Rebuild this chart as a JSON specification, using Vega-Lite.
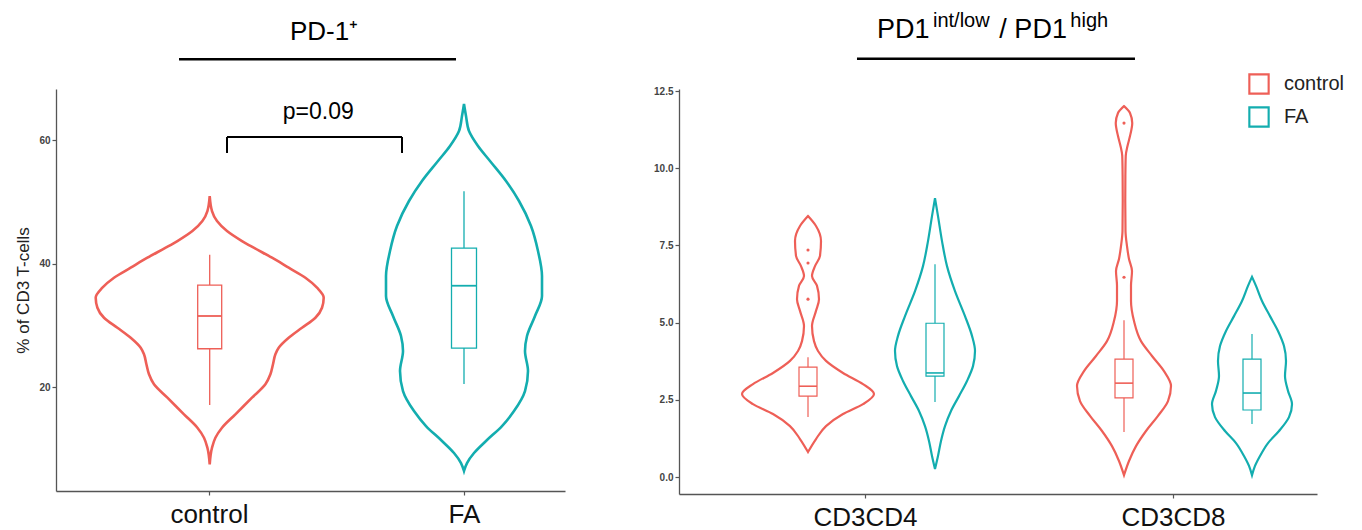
{
  "$schema": "https://vega.github.io/schema/vega-lite/v6.json",
  "padding": {"left": 14, "top": 10, "right": 0, "bottom": 0},
  "bounds": "flush",
  "spacing": 114,
  "config": {
    "view": {"stroke": null},
    "font": "Liberation Sans",
    "axis": {"grid": false, "domainColor": "#555555", "domainWidth": 1.3, "tickColor": "#555555", "tickWidth": 1.2, "tickSize": 4, "labelColor": "#444444", "labelFont": "Liberation Sans"}
  },
  "resolve": {"scale": {"x": "independent", "y": "independent", "stroke": "independent", "fill": "independent"}},
  "datasets": {
    "titles": [
      {"panel": "L", "part": "main", "text": "PD-1⁺"},
      {"panel": "R", "part": "a", "text": "PD1"},
      {"panel": "R", "part": "b", "text": "int/low"},
      {"panel": "R", "part": "c", "text": "/ PD1"},
      {"panel": "R", "part": "d", "text": "high"}
    ],
    "pvalue": [{"group1": "control", "group2": "FA", "label": "p=0.09"}],
    "violins": [
      {"panel": "L", "grp": "control", "cond": "control", "y": 7.48, "dens": 0},
      {"panel": "L", "grp": "control", "cond": "control", "y": 10.17, "dens": 0.00092},
      {"panel": "L", "grp": "control", "cond": "control", "y": 11.79, "dens": 0.00228},
      {"panel": "L", "grp": "control", "cond": "control", "y": 13.41, "dens": 0.00492},
      {"panel": "L", "grp": "control", "cond": "control", "y": 15.58, "dens": 0.01028},
      {"panel": "L", "grp": "control", "cond": "control", "y": 18.27, "dens": 0.01692},
      {"panel": "L", "grp": "control", "cond": "control", "y": 20.44, "dens": 0.02228},
      {"panel": "L", "grp": "control", "cond": "control", "y": 22.06, "dens": 0.02428},
      {"panel": "L", "grp": "control", "cond": "control", "y": 23.68, "dens": 0.02532},
      {"panel": "L", "grp": "control", "cond": "control", "y": 25.3, "dens": 0.02628},
      {"panel": "L", "grp": "control", "cond": "control", "y": 26.36, "dens": 0.0276},
      {"panel": "L", "grp": "control", "cond": "control", "y": 27.98, "dens": 0.0316},
      {"panel": "L", "grp": "control", "cond": "control", "y": 29.6, "dens": 0.03692},
      {"panel": "L", "grp": "control", "cond": "control", "y": 31.22, "dens": 0.04228},
      {"panel": "L", "grp": "control", "cond": "control", "y": 32.84, "dens": 0.04492},
      {"panel": "L", "grp": "control", "cond": "control", "y": 34.46, "dens": 0.0456},
      {"panel": "L", "grp": "control", "cond": "control", "y": 36.08, "dens": 0.04292},
      {"panel": "L", "grp": "control", "cond": "control", "y": 37.7, "dens": 0.03828},
      {"panel": "L", "grp": "control", "cond": "control", "y": 39.32, "dens": 0.0316},
      {"panel": "L", "grp": "control", "cond": "control", "y": 40.94, "dens": 0.02492},
      {"panel": "L", "grp": "control", "cond": "control", "y": 42.56, "dens": 0.0176},
      {"panel": "L", "grp": "control", "cond": "control", "y": 43.64, "dens": 0.01292},
      {"panel": "L", "grp": "control", "cond": "control", "y": 45.26, "dens": 0.00692},
      {"panel": "L", "grp": "control", "cond": "control", "y": 46.88, "dens": 0.00292},
      {"panel": "L", "grp": "control", "cond": "control", "y": 48.5, "dens": 0.00092},
      {"panel": "L", "grp": "control", "cond": "control", "y": 50.93, "dens": 0},
      {"panel": "L", "grp": "FA", "cond": "FA", "y": 6.4, "dens": 0},
      {"panel": "L", "grp": "FA", "cond": "FA", "y": 7.69, "dens": 0.0012},
      {"panel": "L", "grp": "FA", "cond": "FA", "y": 9.31, "dens": 0.004},
      {"panel": "L", "grp": "FA", "cond": "FA", "y": 11.26, "dens": 0.0088},
      {"panel": "L", "grp": "FA", "cond": "FA", "y": 13.68, "dens": 0.0152},
      {"panel": "L", "grp": "FA", "cond": "FA", "y": 16.11, "dens": 0.02},
      {"panel": "L", "grp": "FA", "cond": "FA", "y": 19.35, "dens": 0.0244},
      {"panel": "L", "grp": "FA", "cond": "FA", "y": 22.59, "dens": 0.0256},
      {"panel": "L", "grp": "FA", "cond": "FA", "y": 25.83, "dens": 0.0244},
      {"panel": "L", "grp": "FA", "cond": "FA", "y": 28.26, "dens": 0.0252},
      {"panel": "L", "grp": "FA", "cond": "FA", "y": 31.5, "dens": 0.0284},
      {"panel": "L", "grp": "FA", "cond": "FA", "y": 34.74, "dens": 0.0312},
      {"panel": "L", "grp": "FA", "cond": "FA", "y": 37.98, "dens": 0.0312},
      {"panel": "L", "grp": "FA", "cond": "FA", "y": 42.02, "dens": 0.0296},
      {"panel": "L", "grp": "FA", "cond": "FA", "y": 46.07, "dens": 0.0268},
      {"panel": "L", "grp": "FA", "cond": "FA", "y": 50.12, "dens": 0.022},
      {"panel": "L", "grp": "FA", "cond": "FA", "y": 53.36, "dens": 0.0168},
      {"panel": "L", "grp": "FA", "cond": "FA", "y": 56.6, "dens": 0.0104},
      {"panel": "L", "grp": "FA", "cond": "FA", "y": 59.03, "dens": 0.0056},
      {"panel": "L", "grp": "FA", "cond": "FA", "y": 61.46, "dens": 0.002},
      {"panel": "L", "grp": "FA", "cond": "FA", "y": 63.89, "dens": 0.0008},
      {"panel": "L", "grp": "FA", "cond": "FA", "y": 65.83, "dens": 0},
      {"panel": "R", "grp": "CD3CD4", "cond": "control", "y": 0.81, "dens": 0},
      {"panel": "R", "grp": "CD3CD4", "cond": "control", "y": 1.23, "dens": 0.064},
      {"panel": "R", "grp": "CD3CD4", "cond": "control", "y": 1.65, "dens": 0.144},
      {"panel": "R", "grp": "CD3CD4", "cond": "control", "y": 2.04, "dens": 0.28},
      {"panel": "R", "grp": "CD3CD4", "cond": "control", "y": 2.36, "dens": 0.44},
      {"panel": "R", "grp": "CD3CD4", "cond": "control", "y": 2.69, "dens": 0.528},
      {"panel": "R", "grp": "CD3CD4", "cond": "control", "y": 3.01, "dens": 0.44},
      {"panel": "R", "grp": "CD3CD4", "cond": "control", "y": 3.37, "dens": 0.28},
      {"panel": "R", "grp": "CD3CD4", "cond": "control", "y": 3.76, "dens": 0.144},
      {"panel": "R", "grp": "CD3CD4", "cond": "control", "y": 4.08, "dens": 0.08},
      {"panel": "R", "grp": "CD3CD4", "cond": "control", "y": 4.4, "dens": 0.048},
      {"panel": "R", "grp": "CD3CD4", "cond": "control", "y": 4.89, "dens": 0.032},
      {"panel": "R", "grp": "CD3CD4", "cond": "control", "y": 5.38, "dens": 0.064},
      {"panel": "R", "grp": "CD3CD4", "cond": "control", "y": 5.76, "dens": 0.088},
      {"panel": "R", "grp": "CD3CD4", "cond": "control", "y": 6.19, "dens": 0.072},
      {"panel": "R", "grp": "CD3CD4", "cond": "control", "y": 6.51, "dens": 0.032},
      {"panel": "R", "grp": "CD3CD4", "cond": "control", "y": 6.83, "dens": 0.056},
      {"panel": "R", "grp": "CD3CD4", "cond": "control", "y": 7.16, "dens": 0.096},
      {"panel": "R", "grp": "CD3CD4", "cond": "control", "y": 7.64, "dens": 0.104},
      {"panel": "R", "grp": "CD3CD4", "cond": "control", "y": 8.13, "dens": 0.064},
      {"panel": "R", "grp": "CD3CD4", "cond": "control", "y": 8.45, "dens": 0},
      {"panel": "R", "grp": "CD3CD4", "cond": "FA", "y": 0.26, "dens": 0},
      {"panel": "R", "grp": "CD3CD4", "cond": "FA", "y": 0.68, "dens": 0.024},
      {"panel": "R", "grp": "CD3CD4", "cond": "FA", "y": 1.17, "dens": 0.048},
      {"panel": "R", "grp": "CD3CD4", "cond": "FA", "y": 1.65, "dens": 0.08},
      {"panel": "R", "grp": "CD3CD4", "cond": "FA", "y": 2.14, "dens": 0.128},
      {"panel": "R", "grp": "CD3CD4", "cond": "FA", "y": 2.62, "dens": 0.192},
      {"panel": "R", "grp": "CD3CD4", "cond": "FA", "y": 3.11, "dens": 0.256},
      {"panel": "R", "grp": "CD3CD4", "cond": "FA", "y": 3.59, "dens": 0.304},
      {"panel": "R", "grp": "CD3CD4", "cond": "FA", "y": 4.08, "dens": 0.32},
      {"panel": "R", "grp": "CD3CD4", "cond": "FA", "y": 4.57, "dens": 0.296},
      {"panel": "R", "grp": "CD3CD4", "cond": "FA", "y": 5.21, "dens": 0.24},
      {"panel": "R", "grp": "CD3CD4", "cond": "FA", "y": 6.02, "dens": 0.16},
      {"panel": "R", "grp": "CD3CD4", "cond": "FA", "y": 6.83, "dens": 0.096},
      {"panel": "R", "grp": "CD3CD4", "cond": "FA", "y": 7.64, "dens": 0.056},
      {"panel": "R", "grp": "CD3CD4", "cond": "FA", "y": 8.45, "dens": 0.024},
      {"panel": "R", "grp": "CD3CD4", "cond": "FA", "y": 9.03, "dens": 0},
      {"panel": "R", "grp": "CD3CD8", "cond": "control", "y": 0.06, "dens": 0},
      {"panel": "R", "grp": "CD3CD8", "cond": "control", "y": 0.52, "dens": 0.04},
      {"panel": "R", "grp": "CD3CD8", "cond": "control", "y": 1.0, "dens": 0.096},
      {"panel": "R", "grp": "CD3CD8", "cond": "control", "y": 1.49, "dens": 0.176},
      {"panel": "R", "grp": "CD3CD8", "cond": "control", "y": 1.98, "dens": 0.272},
      {"panel": "R", "grp": "CD3CD8", "cond": "control", "y": 2.46, "dens": 0.352},
      {"panel": "R", "grp": "CD3CD8", "cond": "control", "y": 2.95, "dens": 0.376},
      {"panel": "R", "grp": "CD3CD8", "cond": "control", "y": 3.43, "dens": 0.32},
      {"panel": "R", "grp": "CD3CD8", "cond": "control", "y": 3.92, "dens": 0.224},
      {"panel": "R", "grp": "CD3CD8", "cond": "control", "y": 4.4, "dens": 0.136},
      {"panel": "R", "grp": "CD3CD8", "cond": "control", "y": 5.05, "dens": 0.08},
      {"panel": "R", "grp": "CD3CD8", "cond": "control", "y": 5.7, "dens": 0.056},
      {"panel": "R", "grp": "CD3CD8", "cond": "control", "y": 6.19, "dens": 0.056},
      {"panel": "R", "grp": "CD3CD8", "cond": "control", "y": 6.67, "dens": 0.064},
      {"panel": "R", "grp": "CD3CD8", "cond": "control", "y": 7.06, "dens": 0.04},
      {"panel": "R", "grp": "CD3CD8", "cond": "control", "y": 7.48, "dens": 0.024},
      {"panel": "R", "grp": "CD3CD8", "cond": "control", "y": 7.97, "dens": 0.012},
      {"panel": "R", "grp": "CD3CD8", "cond": "control", "y": 8.94, "dens": 0.01},
      {"panel": "R", "grp": "CD3CD8", "cond": "control", "y": 9.75, "dens": 0.011},
      {"panel": "R", "grp": "CD3CD8", "cond": "control", "y": 10.4, "dens": 0.014},
      {"panel": "R", "grp": "CD3CD8", "cond": "control", "y": 10.72, "dens": 0.028},
      {"panel": "R", "grp": "CD3CD8", "cond": "control", "y": 11.04, "dens": 0.048},
      {"panel": "R", "grp": "CD3CD8", "cond": "control", "y": 11.46, "dens": 0.066},
      {"panel": "R", "grp": "CD3CD8", "cond": "control", "y": 11.79, "dens": 0.048},
      {"panel": "R", "grp": "CD3CD8", "cond": "control", "y": 12.01, "dens": 0},
      {"panel": "R", "grp": "CD3CD8", "cond": "FA", "y": 0.06, "dens": 0},
      {"panel": "R", "grp": "CD3CD8", "cond": "FA", "y": 0.36, "dens": 0.024},
      {"panel": "R", "grp": "CD3CD8", "cond": "FA", "y": 0.68, "dens": 0.064},
      {"panel": "R", "grp": "CD3CD8", "cond": "FA", "y": 1.1, "dens": 0.128},
      {"panel": "R", "grp": "CD3CD8", "cond": "FA", "y": 1.49, "dens": 0.216},
      {"panel": "R", "grp": "CD3CD8", "cond": "FA", "y": 1.94, "dens": 0.296},
      {"panel": "R", "grp": "CD3CD8", "cond": "FA", "y": 2.36, "dens": 0.32},
      {"panel": "R", "grp": "CD3CD8", "cond": "FA", "y": 2.79, "dens": 0.288},
      {"panel": "R", "grp": "CD3CD8", "cond": "FA", "y": 3.27, "dens": 0.264},
      {"panel": "R", "grp": "CD3CD8", "cond": "FA", "y": 3.76, "dens": 0.272},
      {"panel": "R", "grp": "CD3CD8", "cond": "FA", "y": 4.24, "dens": 0.256},
      {"panel": "R", "grp": "CD3CD8", "cond": "FA", "y": 4.73, "dens": 0.208},
      {"panel": "R", "grp": "CD3CD8", "cond": "FA", "y": 5.21, "dens": 0.144},
      {"panel": "R", "grp": "CD3CD8", "cond": "FA", "y": 5.7, "dens": 0.08},
      {"panel": "R", "grp": "CD3CD8", "cond": "FA", "y": 6.19, "dens": 0.032},
      {"panel": "R", "grp": "CD3CD8", "cond": "FA", "y": 6.48, "dens": 0}
    ],
    "boxes": [
      {"panel": "L", "grp": "control", "cond": "control", "lo": 17.1, "q1": 26.2, "med": 31.5, "q3": 36.5, "hi": 41.4},
      {"panel": "L", "grp": "FA", "cond": "FA", "lo": 20.5, "q1": 26.3, "med": 36.4, "q3": 42.5, "hi": 51.7},
      {"panel": "R", "grp": "CD3CD4", "cond": "control", "lo": 1.94, "q1": 2.62, "med": 2.94, "q3": 3.56, "hi": 3.88},
      {"panel": "R", "grp": "CD3CD4", "cond": "FA", "lo": 2.43, "q1": 3.27, "med": 3.37, "q3": 4.98, "hi": 6.89},
      {"panel": "R", "grp": "CD3CD8", "cond": "control", "lo": 1.46, "q1": 2.56, "med": 3.04, "q3": 3.82, "hi": 5.08},
      {"panel": "R", "grp": "CD3CD8", "cond": "FA", "lo": 1.72, "q1": 2.17, "med": 2.72, "q3": 3.82, "hi": 4.63}
    ],
    "outliers": [
      {"panel": "R", "grp": "CD3CD4", "cond": "control", "y": 7.35},
      {"panel": "R", "grp": "CD3CD4", "cond": "control", "y": 6.93},
      {"panel": "R", "grp": "CD3CD4", "cond": "control", "y": 5.76},
      {"panel": "R", "grp": "CD3CD8", "cond": "control", "y": 11.46},
      {"panel": "R", "grp": "CD3CD8", "cond": "control", "y": 6.47}
    ]
  },
  "hconcat": [
    {
      "width": 509,
      "height": 402,
      "resolve": {"scale": {"x": "independent"}, "axis": {"y": "independent"}},
      "layer": [
        {
          "data": {"name": "boxes"},
          "transform": [{"filter": "datum.panel === 'L'"}],
          "mark": {"type": "point", "opacity": 0},
          "encoding": {
            "x": {"field": "grp", "type": "nominal", "sort": null, "scale": {"type": "point", "padding": 0.498, "align": 0.602}, "axis": {"title": null, "labelAngle": 0, "labelFontSize": 26, "labelColor": "#111111", "labelPadding": 6}},
            "y": {"field": "med", "type": "quantitative", "scale": {"domain": [3.16, 68.26], "nice": false, "zero": false}, "axis": {"title": "% of CD3 T-cells", "values": [20, 40, 60], "titleFontSize": 17, "titleFontWeight": "normal", "titleColor": "#222222", "titlePadding": 6, "labelFontSize": 10, "labelFontWeight": "bold"}}
          }
        },
        {"data": {"name": "violins"}, "transform": [{"filter": "datum.panel === 'L' && datum.cond === 'control'"}],
         "mark": {"type": "area", "orient": "horizontal", "interpolate": "monotone", "filled": false, "strokeWidth": 2.6},
         "encoding": {
           "x": {"field": "dens", "type": "quantitative", "stack": "center", "scale": {"domain": [-0.00794, 0.09386], "nice": false, "zero": false}, "axis": null},
           "y": {"field": "y", "type": "quantitative", "scale": {"domain": [3.16, 68.26], "nice": false, "zero": false}, "axis": null},
           "stroke": {"field": "cond", "type": "nominal", "scale": {"domain": ["control", "FA"], "range": ["#EE5F57", "#13ADAF"]}, "legend": null}
         }},
        {"data": {"name": "violins"}, "transform": [{"filter": "datum.panel === 'L' && datum.cond === 'FA'"}],
         "mark": {"type": "area", "orient": "horizontal", "interpolate": "monotone", "filled": false, "strokeWidth": 2.6},
         "encoding": {
           "x": {"field": "dens", "type": "quantitative", "stack": "center", "scale": {"domain": [-0.066, 0.0358], "nice": false, "zero": false}, "axis": null},
           "y": {"field": "y", "type": "quantitative", "scale": {"domain": [3.16, 68.26], "nice": false, "zero": false}, "axis": null},
           "stroke": {"field": "cond", "type": "nominal", "scale": {"domain": ["control", "FA"], "range": ["#EE5F57", "#13ADAF"]}, "legend": null}
         }},
        {
          "layer": [
            {"data": {"name": "boxes"}, "transform": [{"filter": "datum.panel === 'L' && datum.cond === 'control'"}],
             "mark": {"type": "rule", "strokeWidth": 1.3},
             "encoding": {
               "x": {"datum": 0, "type": "quantitative", "scale": {"domain": [-0.03074, 0.07106], "nice": false, "zero": false}, "axis": null},
               "y": {"field": "lo", "type": "quantitative", "scale": {"domain": [3.16, 68.26], "nice": false, "zero": false}, "axis": null},
               "y2": {"field": "hi"},
               "stroke": {"field": "cond", "type": "nominal", "scale": {"domain": ["control", "FA"], "range": ["#EE5F57", "#13ADAF"]}, "legend": null}
             }},
            {"data": {"name": "boxes"}, "transform": [{"filter": "datum.panel === 'L' && datum.cond === 'control'"}],
             "mark": {"type": "rect", "fill": "white", "strokeWidth": 1.3},
             "encoding": {
               "x": {"datum": -0.0024, "type": "quantitative", "scale": {"domain": [-0.03074, 0.07106], "nice": false, "zero": false}, "axis": null},
               "x2": {"datum": 0.0024},
               "y": {"field": "q1", "type": "quantitative", "scale": {"domain": [3.16, 68.26], "nice": false, "zero": false}, "axis": null},
               "y2": {"field": "q3"},
               "stroke": {"field": "cond", "type": "nominal", "scale": {"domain": ["control", "FA"], "range": ["#EE5F57", "#13ADAF"]}, "legend": null}
             }},
            {"data": {"name": "boxes"}, "transform": [{"filter": "datum.panel === 'L' && datum.cond === 'control'"}],
             "mark": {"type": "rule", "strokeWidth": 1.8},
             "encoding": {
               "x": {"datum": -0.0024, "type": "quantitative", "scale": {"domain": [-0.03074, 0.07106], "nice": false, "zero": false}, "axis": null},
               "x2": {"datum": 0.0024},
               "y": {"field": "med", "type": "quantitative", "scale": {"domain": [3.16, 68.26], "nice": false, "zero": false}, "axis": null},
               "stroke": {"field": "cond", "type": "nominal", "scale": {"domain": ["control", "FA"], "range": ["#EE5F57", "#13ADAF"]}, "legend": null}
             }}
          ]
        },
        {
          "layer": [
            {"data": {"name": "boxes"}, "transform": [{"filter": "datum.panel === 'L' && datum.cond === 'FA'"}],
             "mark": {"type": "rule", "strokeWidth": 1.3},
             "encoding": {
               "x": {"datum": 0, "type": "quantitative", "scale": {"domain": [-0.0816, 0.0202], "nice": false, "zero": false}, "axis": null},
               "y": {"field": "lo", "type": "quantitative", "scale": {"domain": [3.16, 68.26], "nice": false, "zero": false}, "axis": null},
               "y2": {"field": "hi"},
               "stroke": {"field": "cond", "type": "nominal", "scale": {"domain": ["control", "FA"], "range": ["#EE5F57", "#13ADAF"]}, "legend": null}
             }},
            {"data": {"name": "boxes"}, "transform": [{"filter": "datum.panel === 'L' && datum.cond === 'FA'"}],
             "mark": {"type": "rect", "fill": "white", "strokeWidth": 1.3},
             "encoding": {
               "x": {"datum": -0.0025, "type": "quantitative", "scale": {"domain": [-0.0816, 0.0202], "nice": false, "zero": false}, "axis": null},
               "x2": {"datum": 0.0025},
               "y": {"field": "q1", "type": "quantitative", "scale": {"domain": [3.16, 68.26], "nice": false, "zero": false}, "axis": null},
               "y2": {"field": "q3"},
               "stroke": {"field": "cond", "type": "nominal", "scale": {"domain": ["control", "FA"], "range": ["#EE5F57", "#13ADAF"]}, "legend": null}
             }},
            {"data": {"name": "boxes"}, "transform": [{"filter": "datum.panel === 'L' && datum.cond === 'FA'"}],
             "mark": {"type": "rule", "strokeWidth": 1.8},
             "encoding": {
               "x": {"datum": -0.0025, "type": "quantitative", "scale": {"domain": [-0.0816, 0.0202], "nice": false, "zero": false}, "axis": null},
               "x2": {"datum": 0.0025},
               "y": {"field": "med", "type": "quantitative", "scale": {"domain": [3.16, 68.26], "nice": false, "zero": false}, "axis": null},
               "stroke": {"field": "cond", "type": "nominal", "scale": {"domain": ["control", "FA"], "range": ["#EE5F57", "#13ADAF"]}, "legend": null}
             }}
          ]
        },
        {
          "layer": [
            {"data": {"name": "titles"}, "transform": [{"filter": "datum.part === 'main'"}],
             "mark": {"type": "text", "fontSize": 26, "align": "center", "baseline": "alphabetic", "color": "#000000"},
             "encoding": {
               "text": {"field": "text"},
               "x": {"datum": 1.451, "type": "quantitative", "scale": {"domain": [0.4, 2.396], "nice": false, "zero": false}, "axis": null},
               "y": {"datum": 76.15, "type": "quantitative", "scale": {"domain": [3.16, 68.26], "nice": false, "zero": false}, "axis": null}
             }},
            {"data": {"name": "titles"}, "transform": [{"filter": "datum.part === 'main'"}],
             "mark": {"type": "rule", "strokeWidth": 2.6, "color": "#000000"},
             "encoding": {
               "x": {"datum": 0.8824, "type": "quantitative", "scale": {"domain": [0.4, 2.396], "nice": false, "zero": false}, "axis": null},
               "x2": {"datum": 1.9686},
               "y": {"datum": 73.07, "type": "quantitative", "scale": {"domain": [3.16, 68.26], "nice": false, "zero": false}, "axis": null}
             }},
            {"data": {"name": "pvalue"},
             "mark": {"type": "text", "fontSize": 23, "align": "center", "baseline": "alphabetic", "color": "#000000"},
             "encoding": {
               "text": {"field": "label"},
               "x": {"datum": 1.4286, "type": "quantitative", "scale": {"domain": [0.4, 2.396], "nice": false, "zero": false}, "axis": null},
               "y": {"datum": 63.35, "type": "quantitative", "scale": {"domain": [3.16, 68.26], "nice": false, "zero": false}, "axis": null}
             }},
            {"data": {"name": "pvalue"},
             "mark": {"type": "rule", "strokeWidth": 2, "color": "#000000"},
             "encoding": {
               "x": {"datum": 1.0706, "type": "quantitative", "scale": {"domain": [0.4, 2.396], "nice": false, "zero": false}, "axis": null},
               "x2": {"datum": 1.7569},
               "y": {"datum": 60.49, "type": "quantitative", "scale": {"domain": [3.16, 68.26], "nice": false, "zero": false}, "axis": null}
             }},
            {"data": {"name": "pvalue"},
             "mark": {"type": "rule", "strokeWidth": 2, "color": "#000000"},
             "encoding": {
               "x": {"datum": 1.0706, "type": "quantitative", "scale": {"domain": [0.4, 2.396], "nice": false, "zero": false}, "axis": null},
               "y": {"datum": 57.9, "type": "quantitative", "scale": {"domain": [3.16, 68.26], "nice": false, "zero": false}, "axis": null},
               "y2": {"datum": 60.49}
             }},
            {"data": {"name": "pvalue"},
             "mark": {"type": "rule", "strokeWidth": 2, "color": "#000000"},
             "encoding": {
               "x": {"datum": 1.7569, "type": "quantitative", "scale": {"domain": [0.4, 2.396], "nice": false, "zero": false}, "axis": null},
               "y": {"datum": 57.9, "type": "quantitative", "scale": {"domain": [3.16, 68.26], "nice": false, "zero": false}, "axis": null},
               "y2": {"datum": 60.49}
             }}
          ]
        }
      ]
    },
    {
      "width": 638,
      "height": 405,
      "resolve": {"scale": {"x": "independent"}, "axis": {"y": "independent"}},
      "layer": [
        {
          "data": {"name": "boxes"},
          "transform": [{"filter": "datum.panel === 'R'"}],
          "mark": {"type": "point", "opacity": 0},
          "encoding": {
            "x": {"field": "grp", "type": "nominal", "sort": null, "scale": {"type": "point", "padding": 0.5357, "align": 0.5636}, "axis": {"title": null, "labelAngle": 0, "labelFontSize": 26, "labelColor": "#111111", "labelPadding": 6}},
            "y": {"field": "med", "type": "quantitative", "scale": {"domain": [-0.55, 12.565], "nice": false, "zero": false}, "axis": {"title": null, "values": [0, 2.5, 5, 7.5, 10, 12.5], "format": ".1f", "labelFontSize": 10, "labelFontWeight": "bold"}}
          }
        },
        {"data": {"name": "violins"}, "transform": [{"filter": "datum.panel === 'R' && datum.grp === 'CD3CD4' && datum.cond === 'control'"}],
         "mark": {"type": "area", "orient": "horizontal", "interpolate": "monotone", "filled": false, "strokeWidth": 2.2},
         "encoding": {
           "x": {"field": "dens", "type": "quantitative", "stack": "center", "scale": {"domain": [-0.252, 2.3], "nice": false, "zero": false}, "axis": null},
           "y": {"field": "y", "type": "quantitative", "scale": {"domain": [-0.55, 12.565], "nice": false, "zero": false}, "axis": null},
           "stroke": {"field": "cond", "type": "nominal", "scale": {"domain": ["control", "FA"], "range": ["#EE5F57", "#13ADAF"]},
             "legend": {"title": null, "orient": "none", "legendX": 569, "legendY": -16, "symbolType": "M-1,-1H1V1H-1Z M-0.8,-0.8V0.8H0.8V-0.8Z", "symbolSize": 460, "symbolStrokeWidth": 0, "labelFontSize": 20, "labelColor": "#222222", "labelOffset": 14, "rowPadding": 11, "padding": 0}}
         }},
        {"data": {"name": "violins"}, "transform": [{"filter": "datum.panel === 'R' && datum.grp === 'CD3CD4' && datum.cond === 'FA'"}],
         "mark": {"type": "area", "orient": "horizontal", "interpolate": "monotone", "filled": false, "strokeWidth": 2.2},
         "encoding": {
           "x": {"field": "dens", "type": "quantitative", "stack": "center", "scale": {"domain": [-0.864, 1.688], "nice": false, "zero": false}, "axis": null},
           "y": {"field": "y", "type": "quantitative", "scale": {"domain": [-0.55, 12.565], "nice": false, "zero": false}, "axis": null},
           "stroke": {"field": "cond", "type": "nominal", "scale": {"domain": ["control", "FA"], "range": ["#EE5F57", "#13ADAF"]}, "legend": null}
         }},
        {"data": {"name": "violins"}, "transform": [{"filter": "datum.panel === 'R' && datum.grp === 'CD3CD8' && datum.cond === 'control'"}],
         "mark": {"type": "area", "orient": "horizontal", "interpolate": "monotone", "filled": false, "strokeWidth": 2.2},
         "encoding": {
           "x": {"field": "dens", "type": "quantitative", "stack": "center", "scale": {"domain": [-1.592, 0.96], "nice": false, "zero": false}, "axis": null},
           "y": {"field": "y", "type": "quantitative", "scale": {"domain": [-0.55, 12.565], "nice": false, "zero": false}, "axis": null},
           "stroke": {"field": "cond", "type": "nominal", "scale": {"domain": ["control", "FA"], "range": ["#EE5F57", "#13ADAF"]}, "legend": null}
         }},
        {"data": {"name": "violins"}, "transform": [{"filter": "datum.panel === 'R' && datum.grp === 'CD3CD8' && datum.cond === 'FA'"}],
         "mark": {"type": "area", "orient": "horizontal", "interpolate": "monotone", "filled": false, "strokeWidth": 2.2},
         "encoding": {
           "x": {"field": "dens", "type": "quantitative", "stack": "center", "scale": {"domain": [-2.132, 0.42], "nice": false, "zero": false}, "axis": null},
           "y": {"field": "y", "type": "quantitative", "scale": {"domain": [-0.55, 12.565], "nice": false, "zero": false}, "axis": null},
           "stroke": {"field": "cond", "type": "nominal", "scale": {"domain": ["control", "FA"], "range": ["#EE5F57", "#13ADAF"]}, "legend": null}
         }},
        {
          "layer": [
            {"data": {"name": "boxes"}, "transform": [{"filter": "datum.panel === 'R' && datum.grp === 'CD3CD4' && datum.cond === 'control'"}],
             "mark": {"type": "rule", "strokeWidth": 1.2},
             "encoding": {
               "x": {"datum": 0, "type": "quantitative", "scale": {"domain": [-0.516, 2.036], "nice": false, "zero": false}, "axis": null},
               "y": {"field": "lo", "type": "quantitative", "scale": {"domain": [-0.55, 12.565], "nice": false, "zero": false}, "axis": null},
               "y2": {"field": "hi"},
               "stroke": {"field": "cond", "type": "nominal", "scale": {"domain": ["control", "FA"], "range": ["#EE5F57", "#13ADAF"]}, "legend": null}
             }},
            {"data": {"name": "boxes"}, "transform": [{"filter": "datum.panel === 'R' && datum.grp === 'CD3CD4' && datum.cond === 'control'"}],
             "mark": {"type": "rect", "fill": "white", "strokeWidth": 1.2},
             "encoding": {
               "x": {"datum": -0.036, "type": "quantitative", "scale": {"domain": [-0.516, 2.036], "nice": false, "zero": false}, "axis": null},
               "x2": {"datum": 0.036},
               "y": {"field": "q1", "type": "quantitative", "scale": {"domain": [-0.55, 12.565], "nice": false, "zero": false}, "axis": null},
               "y2": {"field": "q3"},
               "stroke": {"field": "cond", "type": "nominal", "scale": {"domain": ["control", "FA"], "range": ["#EE5F57", "#13ADAF"]}, "legend": null}
             }},
            {"data": {"name": "boxes"}, "transform": [{"filter": "datum.panel === 'R' && datum.grp === 'CD3CD4' && datum.cond === 'control'"}],
             "mark": {"type": "rule", "strokeWidth": 1.6},
             "encoding": {
               "x": {"datum": -0.036, "type": "quantitative", "scale": {"domain": [-0.516, 2.036], "nice": false, "zero": false}, "axis": null},
               "x2": {"datum": 0.036},
               "y": {"field": "med", "type": "quantitative", "scale": {"domain": [-0.55, 12.565], "nice": false, "zero": false}, "axis": null},
               "stroke": {"field": "cond", "type": "nominal", "scale": {"domain": ["control", "FA"], "range": ["#EE5F57", "#13ADAF"]}, "legend": null}
             }},
            {"data": {"name": "outliers"}, "transform": [{"filter": "datum.panel === 'R' && datum.grp === 'CD3CD4' && datum.cond === 'control'"}],
             "mark": {"type": "circle", "size": 10, "opacity": 1},
             "encoding": {
               "x": {"datum": 0, "type": "quantitative", "scale": {"domain": [-0.516, 2.036], "nice": false, "zero": false}, "axis": null},
               "y": {"field": "y", "type": "quantitative", "scale": {"domain": [-0.55, 12.565], "nice": false, "zero": false}, "axis": null},
               "fill": {"field": "cond", "type": "nominal", "scale": {"domain": ["control", "FA"], "range": ["#EE5F57", "#13ADAF"]}, "legend": null}
             }}
          ]
        },
        {
          "layer": [
            {"data": {"name": "boxes"}, "transform": [{"filter": "datum.panel === 'R' && datum.grp === 'CD3CD4' && datum.cond === 'FA'"}],
             "mark": {"type": "rule", "strokeWidth": 1.2},
             "encoding": {
               "x": {"datum": 0, "type": "quantitative", "scale": {"domain": [-1.024, 1.528], "nice": false, "zero": false}, "axis": null},
               "y": {"field": "lo", "type": "quantitative", "scale": {"domain": [-0.55, 12.565], "nice": false, "zero": false}, "axis": null},
               "y2": {"field": "hi"},
               "stroke": {"field": "cond", "type": "nominal", "scale": {"domain": ["control", "FA"], "range": ["#EE5F57", "#13ADAF"]}, "legend": null}
             }},
            {"data": {"name": "boxes"}, "transform": [{"filter": "datum.panel === 'R' && datum.grp === 'CD3CD4' && datum.cond === 'FA'"}],
             "mark": {"type": "rect", "fill": "white", "strokeWidth": 1.2},
             "encoding": {
               "x": {"datum": -0.036, "type": "quantitative", "scale": {"domain": [-1.024, 1.528], "nice": false, "zero": false}, "axis": null},
               "x2": {"datum": 0.036},
               "y": {"field": "q1", "type": "quantitative", "scale": {"domain": [-0.55, 12.565], "nice": false, "zero": false}, "axis": null},
               "y2": {"field": "q3"},
               "stroke": {"field": "cond", "type": "nominal", "scale": {"domain": ["control", "FA"], "range": ["#EE5F57", "#13ADAF"]}, "legend": null}
             }},
            {"data": {"name": "boxes"}, "transform": [{"filter": "datum.panel === 'R' && datum.grp === 'CD3CD4' && datum.cond === 'FA'"}],
             "mark": {"type": "rule", "strokeWidth": 1.6},
             "encoding": {
               "x": {"datum": -0.036, "type": "quantitative", "scale": {"domain": [-1.024, 1.528], "nice": false, "zero": false}, "axis": null},
               "x2": {"datum": 0.036},
               "y": {"field": "med", "type": "quantitative", "scale": {"domain": [-0.55, 12.565], "nice": false, "zero": false}, "axis": null},
               "stroke": {"field": "cond", "type": "nominal", "scale": {"domain": ["control", "FA"], "range": ["#EE5F57", "#13ADAF"]}, "legend": null}
             }}
          ]
        },
        {
          "layer": [
            {"data": {"name": "boxes"}, "transform": [{"filter": "datum.panel === 'R' && datum.grp === 'CD3CD8' && datum.cond === 'control'"}],
             "mark": {"type": "rule", "strokeWidth": 1.2},
             "encoding": {
               "x": {"datum": 0, "type": "quantitative", "scale": {"domain": [-1.78, 0.772], "nice": false, "zero": false}, "axis": null},
               "y": {"field": "lo", "type": "quantitative", "scale": {"domain": [-0.55, 12.565], "nice": false, "zero": false}, "axis": null},
               "y2": {"field": "hi"},
               "stroke": {"field": "cond", "type": "nominal", "scale": {"domain": ["control", "FA"], "range": ["#EE5F57", "#13ADAF"]}, "legend": null}
             }},
            {"data": {"name": "boxes"}, "transform": [{"filter": "datum.panel === 'R' && datum.grp === 'CD3CD8' && datum.cond === 'control'"}],
             "mark": {"type": "rect", "fill": "white", "strokeWidth": 1.2},
             "encoding": {
               "x": {"datum": -0.036, "type": "quantitative", "scale": {"domain": [-1.78, 0.772], "nice": false, "zero": false}, "axis": null},
               "x2": {"datum": 0.036},
               "y": {"field": "q1", "type": "quantitative", "scale": {"domain": [-0.55, 12.565], "nice": false, "zero": false}, "axis": null},
               "y2": {"field": "q3"},
               "stroke": {"field": "cond", "type": "nominal", "scale": {"domain": ["control", "FA"], "range": ["#EE5F57", "#13ADAF"]}, "legend": null}
             }},
            {"data": {"name": "boxes"}, "transform": [{"filter": "datum.panel === 'R' && datum.grp === 'CD3CD8' && datum.cond === 'control'"}],
             "mark": {"type": "rule", "strokeWidth": 1.6},
             "encoding": {
               "x": {"datum": -0.036, "type": "quantitative", "scale": {"domain": [-1.78, 0.772], "nice": false, "zero": false}, "axis": null},
               "x2": {"datum": 0.036},
               "y": {"field": "med", "type": "quantitative", "scale": {"domain": [-0.55, 12.565], "nice": false, "zero": false}, "axis": null},
               "stroke": {"field": "cond", "type": "nominal", "scale": {"domain": ["control", "FA"], "range": ["#EE5F57", "#13ADAF"]}, "legend": null}
             }},
            {"data": {"name": "outliers"}, "transform": [{"filter": "datum.panel === 'R' && datum.grp === 'CD3CD8' && datum.cond === 'control'"}],
             "mark": {"type": "circle", "size": 10, "opacity": 1},
             "encoding": {
               "x": {"datum": 0, "type": "quantitative", "scale": {"domain": [-1.78, 0.772], "nice": false, "zero": false}, "axis": null},
               "y": {"field": "y", "type": "quantitative", "scale": {"domain": [-0.55, 12.565], "nice": false, "zero": false}, "axis": null},
               "fill": {"field": "cond", "type": "nominal", "scale": {"domain": ["control", "FA"], "range": ["#EE5F57", "#13ADAF"]}, "legend": null}
             }}
          ]
        },
        {
          "layer": [
            {"data": {"name": "boxes"}, "transform": [{"filter": "datum.panel === 'R' && datum.grp === 'CD3CD8' && datum.cond === 'FA'"}],
             "mark": {"type": "rule", "strokeWidth": 1.2},
             "encoding": {
               "x": {"datum": 0, "type": "quantitative", "scale": {"domain": [-2.292, 0.26], "nice": false, "zero": false}, "axis": null},
               "y": {"field": "lo", "type": "quantitative", "scale": {"domain": [-0.55, 12.565], "nice": false, "zero": false}, "axis": null},
               "y2": {"field": "hi"},
               "stroke": {"field": "cond", "type": "nominal", "scale": {"domain": ["control", "FA"], "range": ["#EE5F57", "#13ADAF"]}, "legend": null}
             }},
            {"data": {"name": "boxes"}, "transform": [{"filter": "datum.panel === 'R' && datum.grp === 'CD3CD8' && datum.cond === 'FA'"}],
             "mark": {"type": "rect", "fill": "white", "strokeWidth": 1.2},
             "encoding": {
               "x": {"datum": -0.036, "type": "quantitative", "scale": {"domain": [-2.292, 0.26], "nice": false, "zero": false}, "axis": null},
               "x2": {"datum": 0.036},
               "y": {"field": "q1", "type": "quantitative", "scale": {"domain": [-0.55, 12.565], "nice": false, "zero": false}, "axis": null},
               "y2": {"field": "q3"},
               "stroke": {"field": "cond", "type": "nominal", "scale": {"domain": ["control", "FA"], "range": ["#EE5F57", "#13ADAF"]}, "legend": null}
             }},
            {"data": {"name": "boxes"}, "transform": [{"filter": "datum.panel === 'R' && datum.grp === 'CD3CD8' && datum.cond === 'FA'"}],
             "mark": {"type": "rule", "strokeWidth": 1.6},
             "encoding": {
               "x": {"datum": -0.036, "type": "quantitative", "scale": {"domain": [-2.292, 0.26], "nice": false, "zero": false}, "axis": null},
               "x2": {"datum": 0.036},
               "y": {"field": "med", "type": "quantitative", "scale": {"domain": [-0.55, 12.565], "nice": false, "zero": false}, "axis": null},
               "stroke": {"field": "cond", "type": "nominal", "scale": {"domain": ["control", "FA"], "range": ["#EE5F57", "#13ADAF"]}, "legend": null}
             }}
          ]
        },
        {
          "layer": [
            {"data": {"name": "titles"}, "transform": [{"filter": "datum.part === 'a'"}],
             "mark": {"type": "text", "fontSize": 27, "align": "left", "baseline": "alphabetic", "color": "#000000"},
             "encoding": {
               "text": {"field": "text"},
               "x": {"datum": 1.0389, "type": "quantitative", "scale": {"domain": [0.396, 2.4675], "nice": false, "zero": false}, "axis": null},
               "y": {"datum": 14.207, "type": "quantitative", "scale": {"domain": [-0.55, 12.565], "nice": false, "zero": false}, "axis": null}
             }},
            {"data": {"name": "titles"}, "transform": [{"filter": "datum.part === 'b'"}],
             "mark": {"type": "text", "fontSize": 20, "align": "left", "baseline": "alphabetic", "color": "#000000"},
             "encoding": {
               "text": {"field": "text"},
               "x": {"datum": 1.2207, "type": "quantitative", "scale": {"domain": [0.396, 2.4675], "nice": false, "zero": false}, "axis": null},
               "y": {"datum": 14.573, "type": "quantitative", "scale": {"domain": [-0.55, 12.565], "nice": false, "zero": false}, "axis": null}
             }},
            {"data": {"name": "titles"}, "transform": [{"filter": "datum.part === 'c'"}],
             "mark": {"type": "text", "fontSize": 27, "align": "left", "baseline": "alphabetic", "color": "#000000"},
             "encoding": {
               "text": {"field": "text"},
               "x": {"datum": 1.4362, "type": "quantitative", "scale": {"domain": [0.396, 2.4675], "nice": false, "zero": false}, "axis": null},
               "y": {"datum": 14.207, "type": "quantitative", "scale": {"domain": [-0.55, 12.565], "nice": false, "zero": false}, "axis": null}
             }},
            {"data": {"name": "titles"}, "transform": [{"filter": "datum.part === 'd'"}],
             "mark": {"type": "text", "fontSize": 20, "align": "left", "baseline": "alphabetic", "color": "#000000"},
             "encoding": {
               "text": {"field": "text"},
               "x": {"datum": 1.6667, "type": "quantitative", "scale": {"domain": [0.396, 2.4675], "nice": false, "zero": false}, "axis": null},
               "y": {"datum": 14.573, "type": "quantitative", "scale": {"domain": [-0.55, 12.565], "nice": false, "zero": false}, "axis": null}
             }},
            {"data": {"name": "titles"}, "transform": [{"filter": "datum.part === 'a'"}],
             "mark": {"type": "rule", "strokeWidth": 2.6, "color": "#000000"},
             "encoding": {
               "x": {"datum": 0.9739, "type": "quantitative", "scale": {"domain": [0.396, 2.4675], "nice": false, "zero": false}, "axis": null},
               "x2": {"datum": 1.8765},
               "y": {"datum": 13.546, "type": "quantitative", "scale": {"domain": [-0.55, 12.565], "nice": false, "zero": false}, "axis": null}
             }}
          ]
        }
      ]
    }
  ]
}
